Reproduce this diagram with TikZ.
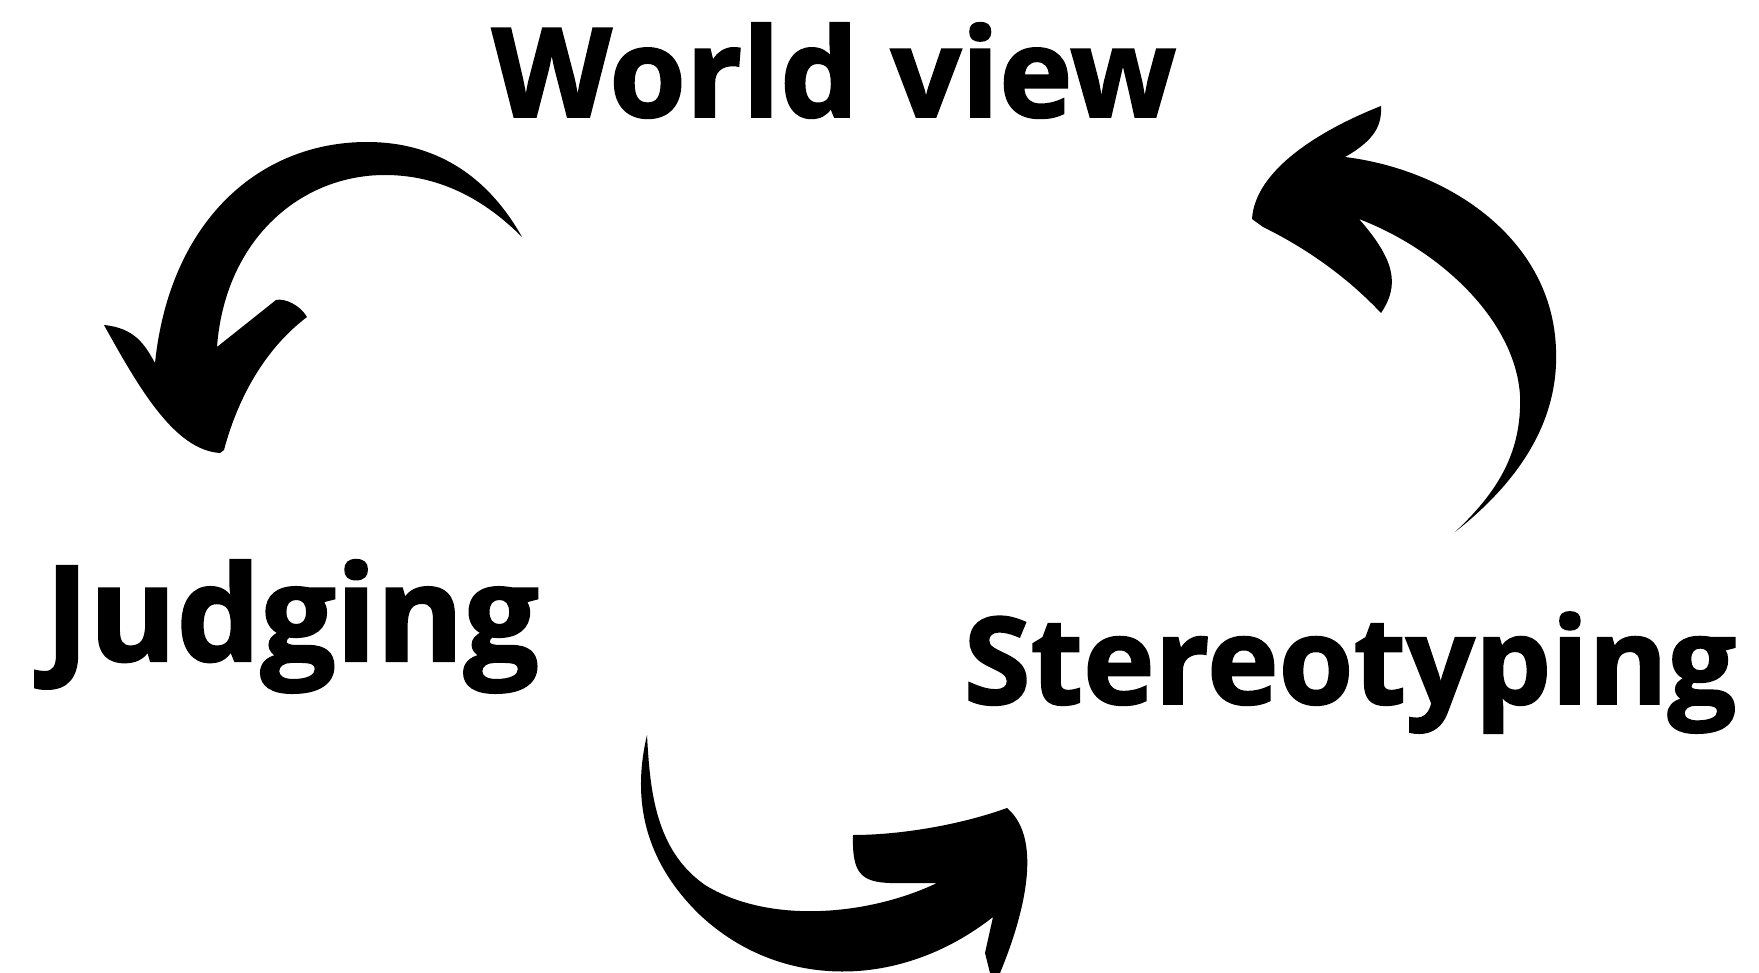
\documentclass[tikz,border=0pt]{standalone}
\usepackage{fontspec}
\setmainfont{Open Sans}[BoldFeatures={FakeBold=1.6}]
\usepackage{tikz}

\begin{document}
\begin{tikzpicture}[
  x=1pt, y=-1pt,
  word/.style={font=\bfseries\fontsize{#1}{#1}\selectfont, anchor=base, inner sep=0pt},
  brush/.style={fill=black, draw=none}
]
\useasboundingbox (0,0) rectangle (1759,973);

\node[word=124] (world) at (834,117) {World view};
\node[word=133] (judging) at (292,661) {Judging};
\node[word=121] (stereo) at (1350,704) {Stereotyping};

% ends of the three brush arrows
\coordinate (wj-tail) at (522,237);
\coordinate (wj-tip) at (220,453);
\coordinate (js-tail) at (647,735);
\coordinate (js-tip) at (1007,808);
\coordinate (sw-tail) at (1455,532);
\coordinate (sw-tip) at (1252,219);

% world view -> judging
\fill[brush] (wj-tail) .. controls (490,180) and (440,142) .. (367,142)
  .. controls (260,142) and (170,220) .. (155,363)
  .. controls (145,345) and (135,328) .. (104,325)
  .. controls (140,390) and (175,450) .. (wj-tip) -- (224,450)
  .. controls (240,390) and (270,345) .. (307,317)
  .. controls (300,305) and (285,298) .. (276,300) -- (217,347)
  .. controls (225,240) and (300,175) .. (385,175)
  .. controls (450,175) and (495,210) .. (wj-tail) -- cycle;

% judging -> stereotyping
\fill[brush] (js-tail) .. controls (634,790) and (638,855) .. (700,915)
  .. controls (780,990) and (900,990) .. (993,917)
  -- (985,953) -- (990,973) -- (1000,973)
  .. controls (1022,920) and (1045,840) .. (js-tip)
  .. controls (960,825) and (900,835) .. (853,835)
  .. controls (852,872) and (860,882) .. (890,883) -- (937,883)
  .. controls (870,915) and (770,925) .. (705,885)
  .. controls (655,850) and (650,790) .. (js-tail) -- cycle;

% stereotyping -> world view
\fill[brush] (sw-tail) .. controls (1540,465) and (1558,400) .. (1556,350)
  .. controls (1553,240) and (1450,170) .. (1345,157)
  .. controls (1375,140) and (1382,125) .. (1381,106)
  .. controls (1320,130) and (1255,170) .. (sw-tip) -- (1263,227)
  .. controls (1310,250) and (1350,280) .. (1381,313)
  .. controls (1400,285) and (1395,260) .. (1359,219)
  .. controls (1440,250) and (1515,320) .. (1520,395)
  .. controls (1522,450) and (1500,490) .. (sw-tail) -- cycle;
\end{tikzpicture}
\end{document}
